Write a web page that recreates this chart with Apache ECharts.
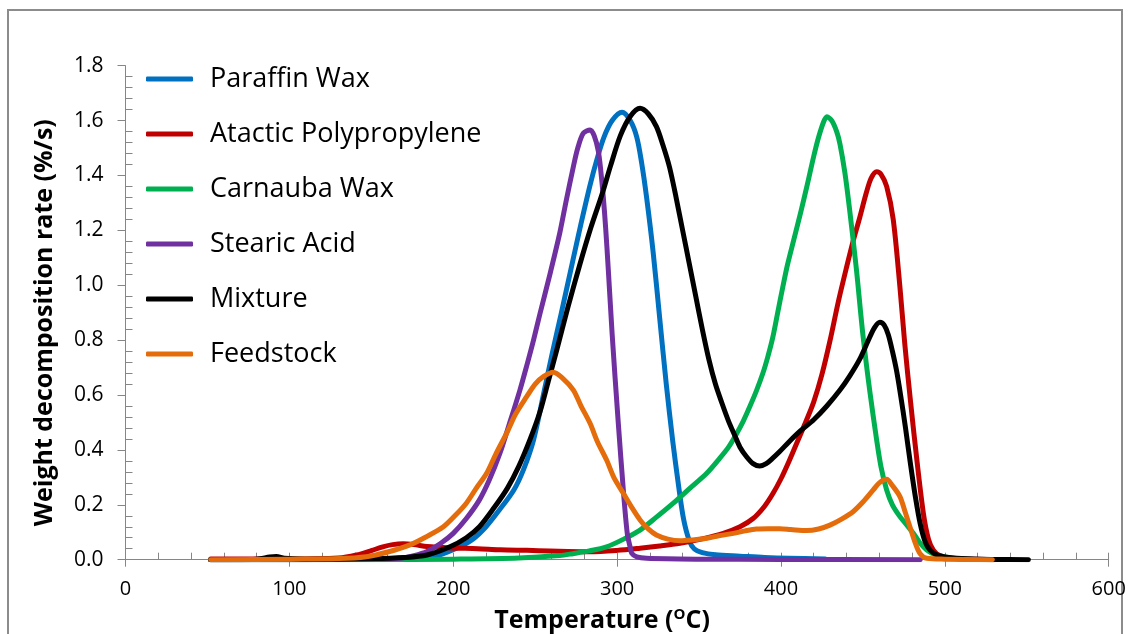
<!DOCTYPE html>
<html>
<head>
<meta charset="utf-8">
<script src="https://cdn.jsdelivr.net/npm/echarts@6/dist/echarts.min.js"></script>
<style>
  html, body { margin: 0; padding: 0; background: #fff; }
  #chart { width: 1130px; height: 634px; }
</style>
</head>
<body>
<div id="chart"></div>
<script>
// DTG curves: [temperature (°C), weight decomposition rate (%/s)]
const seriesNames = ['Paraffin Wax', 'Atactic Polypropylene', 'Carnauba Wax', 'Stearic Acid', 'Mixture', 'Feedstock'];
const seriesColors = ['#0070C0', '#C00000', '#00B050', '#7030A0', '#000000', '#E46C0A'];

const paraffinWax = [[52,0],[100,0],[150,0.002],[175,0.006],[188,0.011],[202,0.042],[212,0.075],[220,0.12],[228,0.18],[237,0.254],[243,0.33],[249,0.436],[255,0.6],[260,0.74],[266,0.9],[273,1.09],[278,1.225],[283.5,1.365],[288,1.465],[292,1.54],[297,1.6],[303,1.63],[308,1.6],[312,1.54],[315,1.445],[318,1.32],[322,1.12],[326,0.88],[330,0.64],[334,0.43],[337.5,0.27],[340.5,0.15],[344,0.07],[347,0.04],[352,0.026],[360,0.018],[375,0.013],[390,0.008],[405,0.005],[427,0.003]];

const atacticPP = [[52,0.003],[100,0.002],[130,0.006],[141,0.017],[150,0.033],[157,0.047],[163,0.055],[169.5,0.058],[176,0.055],[184,0.048],[198,0.043],[215,0.04],[228.5,0.036],[245,0.034],[259,0.032],[270,0.03],[283.5,0.029],[300,0.034],[314,0.042],[326,0.05],[338.4,0.06],[352,0.076],[364.8,0.096],[375,0.12],[383,0.15],[390,0.195],[395,0.24],[400,0.295],[405,0.36],[410,0.43],[415,0.5],[420,0.575],[425,0.675],[430,0.8],[435,0.94],[440,1.065],[444,1.16],[448,1.245],[452,1.335],[455,1.39],[458.4,1.414],[461,1.405],[464.5,1.36],[468.5,1.24],[472.5,1.0],[475.5,0.79],[479,0.58],[483,0.36],[487,0.165],[490,0.075],[493,0.035],[497,0.015],[505,0.005],[530,0]];

const carnaubaWax = [[52,0],[150,0],[200,0.002],[240,0.006],[265,0.015],[273,0.022],[283,0.032],[293.6,0.047],[304,0.075],[314,0.108],[324,0.155],[334.3,0.206],[344,0.258],[354.7,0.315],[362,0.365],[368,0.41],[373,0.46],[377,0.505],[381,0.558],[385,0.615],[389,0.68],[392,0.74],[395,0.81],[398,0.9],[401,0.99],[404,1.075],[408,1.17],[412,1.265],[416,1.365],[420,1.47],[423,1.54],[426,1.595],[428,1.614],[431,1.6],[434,1.56],[436,1.515],[439,1.41],[442,1.27],[446,1.06],[450,0.82],[454.3,0.61],[458.4,0.436],[461,0.34],[464.5,0.254],[468,0.2],[472.6,0.157],[477,0.125],[480.8,0.096],[485,0.06],[489,0.035],[494,0.018],[499,0.011],[510,0.003],[530,0]];

const stearicAcid = [[52,0],[100,0],[150,0.002],[167.5,0.005],[176,0.015],[184,0.03],[192,0.058],[200,0.096],[208,0.15],[216,0.218],[222,0.29],[228.5,0.388],[234,0.49],[240.7,0.618],[245,0.71],[249,0.8],[253,0.898],[259,1.04],[265,1.19],[269,1.31],[273.3,1.432],[276,1.5],[279.4,1.554],[283.5,1.566],[286,1.545],[288.5,1.49],[290,1.42],[291.6,1.32],[293,1.21],[294.6,1.06],[297,0.82],[300.7,0.5],[303.8,0.254],[306.2,0.096],[308,0.045],[309,0.023],[312,0.01],[318,0.005],[350,0.002],[400,0.001],[485,0]];

const mixture = [[52,0],[80,0.002],[88,0.01],[92,0.012],[97,0.005],[110,0.002],[150,0.004],[170,0.008],[184,0.017],[198,0.047],[208,0.08],[216,0.12],[225,0.19],[233,0.26],[240,0.34],[247,0.44],[253,0.54],[258,0.65],[263,0.76],[270,0.92],[277,1.07],[284,1.21],[291,1.335],[296,1.435],[302,1.545],[308,1.615],[314,1.645],[319,1.625],[324,1.578],[328,1.51],[332,1.43],[336,1.32],[340,1.2],[344,1.08],[348,0.96],[352,0.84],[356,0.73],[360,0.64],[364,0.57],[368,0.505],[372,0.45],[375,0.41],[379,0.375],[383,0.35],[387,0.341],[391,0.35],[395,0.37],[399.4,0.395],[405,0.43],[412,0.47],[420,0.51],[428,0.56],[436,0.618],[442,0.67],[448,0.73],[453,0.795],[457,0.845],[460.4,0.865],[463,0.855],[465.5,0.82],[468,0.76],[470.5,0.69],[473,0.6],[476,0.48],[479,0.35],[482,0.23],[485,0.13],[488,0.065],[491,0.035],[495,0.018],[500,0.01],[510,0.004],[530,0.001],[551,0]];

const feedstock = [[52,0],[100,0.002],[130,0.004],[147,0.011],[160,0.028],[173.6,0.054],[184,0.085],[194,0.12],[201,0.16],[208,0.206],[214,0.26],[220.4,0.315],[226,0.385],[232.6,0.461],[238,0.53],[244.8,0.594],[250,0.64],[255,0.667],[261,0.683],[267,0.66],[273.3,0.618],[278,0.56],[283.5,0.497],[288,0.43],[293.6,0.363],[298,0.3],[303.8,0.242],[309,0.19],[314,0.145],[319,0.112],[324,0.09],[331,0.075],[338.4,0.069],[346,0.072],[354.7,0.078],[362,0.087],[371,0.096],[378,0.105],[385,0.112],[392,0.113],[399.4,0.113],[406,0.11],[415.7,0.106],[423,0.112],[429.9,0.126],[437,0.148],[444,0.175],[450,0.21],[456.3,0.254],[460,0.28],[464.5,0.293],[468,0.27],[472.6,0.23],[476,0.17],[478.7,0.12],[482,0.06],[484.8,0.023],[489,0.005],[500,0.002],[529,0]];

const seriesData = [paraffinWax, atacticPP, carnaubaWax, stearicAcid, mixture, feedstock];

const xTicks = { min: 0, max: 600, interval: 100 };
const yTicks = { min: 0, max: 1.8, interval: 0.2 };

const FONT = '"Open Sans", "Noto Sans", sans-serif';
const AXIS_GRAY = '#868686';

const chart = echarts.init(document.getElementById('chart'), null, { renderer: 'canvas' });

const option = {
  backgroundColor: '#fff',
  animation: false,
  textStyle: { fontFamily: FONT },
  graphic: [{
    type: 'rect',
    shape: { x: 8, y: 10, width: 1114, height: 640 },
    style: { fill: 'none', stroke: '#8c8c8c', lineWidth: 2 },
    silent: true
  }],
  grid: { left: 125.5, right: 21.3, top: 65.7, bottom: 74.3, containLabel: false, outerBoundsMode: 'none' },
  legend: {
    orient: 'vertical',
    left: 141,
    top: 59,
    icon: 'roundRect',
    itemWidth: 47,
    itemHeight: 5,
    itemGap: 25,
    data: seriesNames,
    textStyle: { fontFamily: FONT, fontSize: 27, color: '#000', lineHeight: 30, padding: [0, 0, 0, 12] }
  },
  xAxis: [{
    type: 'value',
    min: xTicks.min, max: xTicks.max, interval: xTicks.interval,
    name: 'Temperature ({sup|O}C)',
    nameLocation: 'middle',
    nameGap: 48,
    nameTextStyle: {
      fontFamily: FONT, fontSize: 25, fontWeight: 'bold', color: '#000',
      padding: [0, 30, 0, 0],
      rich: { sup: { fontFamily: FONT, fontSize: 15, fontWeight: 'bold', color: '#000', padding: [0, 0, 11, 0] } }
    },
    axisLine: { lineStyle: { color: AXIS_GRAY, width: 1 } },
    axisTick: { show: true, length: 7, lineStyle: { color: AXIS_GRAY } },
    axisLabel: { fontFamily: FONT, fontSize: 20, color: '#000', margin: 20 },
    splitLine: { show: false }
  }, {
    // inner half of the major ticks plus the minor ticks, drawn inside the plot
    type: 'value', position: 'bottom',
    min: xTicks.min, max: xTicks.max, interval: xTicks.interval,
    axisLine: { show: false },
    axisTick: { show: true, inside: true, length: 7, lineStyle: { color: AXIS_GRAY } },
    minorTick: { show: true, splitNumber: 5, length: 7, lineStyle: { color: AXIS_GRAY } },
    axisLabel: { show: false },
    splitLine: { show: false }
  }],
  yAxis: [{
    type: 'value',
    min: yTicks.min, max: yTicks.max, interval: yTicks.interval,
    name: 'Weight decomposition rate (%/s)',
    nameLocation: 'middle',
    nameGap: 68,
    nameTextStyle: { fontFamily: FONT, fontSize: 25, fontWeight: 'bold', color: '#000', padding: [0, 20, 0, 0] },
    axisLine: { show: true, lineStyle: { color: AXIS_GRAY, width: 1 } },
    axisTick: { show: true, length: 8, lineStyle: { color: AXIS_GRAY } },
    axisLabel: { fontFamily: FONT, fontSize: 21, color: '#000', margin: 22, formatter: v => v.toFixed(1) },
    splitLine: { show: false }
  }, {
    type: 'value', position: 'left',
    min: yTicks.min, max: yTicks.max, interval: yTicks.interval,
    axisLine: { show: false },
    axisTick: { show: false, inside: true },
    minorTick: { show: true, splitNumber: 5, length: 7, lineStyle: { color: AXIS_GRAY } },
    axisLabel: { show: false },
    splitLine: { show: false }
  }],
  series: seriesNames.map((name, i) => ({
    name,
    type: 'line',
    xAxisIndex: 0,
    yAxisIndex: 0,
    data: seriesData[i],
    showSymbol: false,
    symbol: 'none',
    smooth: 0.3,
    itemStyle: { color: seriesColors[i] },
    lineStyle: { color: seriesColors[i], width: 5, cap: 'round', join: 'round' },
    z: 2 + i
  }))
};

chart.setOption(option);
</script>
</body>
</html>
